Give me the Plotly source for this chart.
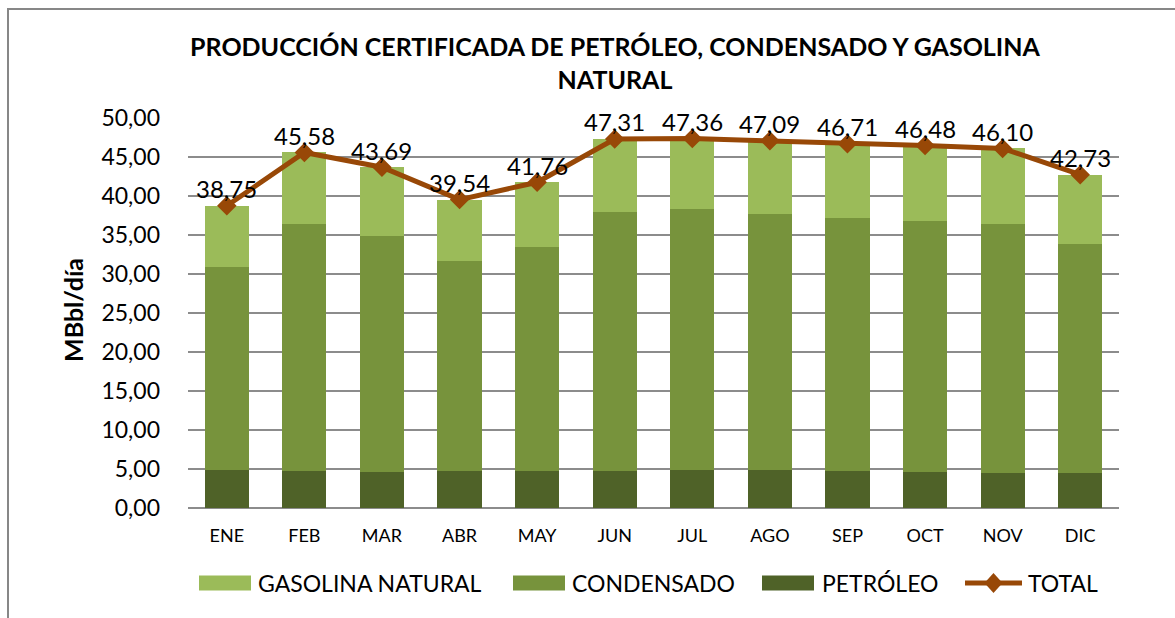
import plotly.graph_objects as go

meses = ["ENE", "FEB", "MAR", "ABR", "MAY", "JUN", "JUL", "AGO", "SEP", "OCT", "NOV", "DIC"]
petroleo = [4.90, 4.77, 4.68, 4.77, 4.77, 4.77, 4.90, 4.81, 4.77, 4.68, 4.51, 4.51]
condensado = [25.97, 31.62, 30.17, 26.87, 28.63, 33.15, 33.46, 32.86, 32.43, 32.11, 31.88, 29.31]
gasolina = [7.88, 9.19, 8.84, 7.90, 8.36, 9.39, 9.00, 9.42, 9.51, 9.69, 9.71, 8.91]
total = [38.75, 45.58, 43.69, 39.54, 41.76, 47.31, 47.36, 47.09, 46.71, 46.48, 46.10, 42.73]
yticks = [0, 5, 10, 15, 20, 25, 30, 35, 40, 45, 50]
series_names = ["GASOLINA NATURAL", "CONDENSADO", "PETRÓLEO", "TOTAL"]

FONT = "Lato"
C_GAS, C_CON, C_PET, C_TOT = "#9BBB59", "#77933C", "#4F6228", "#984807"

# plot-area geometry in pixels (used only for converting layout positions)
L, R, T, B = 188, 1119, 118, 508
PW, PH = R - L, B - T


def px(x):
    return (x - L) / PW


def py(y):
    return (B - y) / PH


fig = go.Figure()
fig.add_trace(go.Bar(x=meses, y=petroleo, name=series_names[2], marker=dict(color=C_PET, line=dict(width=0))))
fig.add_trace(go.Bar(x=meses, y=condensado, name=series_names[1], marker=dict(color=C_CON, line=dict(width=0))))
fig.add_trace(go.Bar(x=meses, y=gasolina, name=series_names[0], marker=dict(color=C_GAS, line=dict(width=0))))
fig.add_trace(go.Scatter(
    x=meses, y=total, name=series_names[3], mode="lines+markers",
    line=dict(color=C_TOT, width=5),
    marker=dict(symbol="diamond", size=15, color=C_TOT),
    cliponaxis=False,
))

annotations = []
# data labels for TOTAL
for m, v in zip(meses, total):
    annotations.append(dict(text=f"{v:.2f}".replace(".", ","), xref="x", yref="y", x=m, y=v,
                            yshift=17, xanchor="center", yanchor="middle", showarrow=False,
                            font=dict(family=FONT, size=24, color="#000000")))

shapes = [dict(type="rect", xref="paper", yref="paper",
               x0=px(8), x1=px(1190), y0=py(640), y1=py(9),
               line=dict(color="#878787", width=2), fillcolor="rgba(0,0,0,0)", layer="below")]
annotations += [
    dict(text="<b>Gráfico N° 10</b>", xref="paper", yref="paper",
         x=px(598), y=py(5), xanchor="center", yanchor="bottom",
         showarrow=False, font=dict(family=FONT, size=20, color="#000000")),
    dict(text="<b>MBbl/día</b>", xref="paper", yref="paper", x=px(73), y=py(310),
         xanchor="center", yanchor="middle", textangle=-90, showarrow=False,
         font=dict(family=FONT, size=25, color="#000000")),
]

# custom legend (wide swatches like the original)
leg_y = 583
swatches = [(199, 251, C_GAS, 256), (513, 565, C_CON, 570), (762, 814, C_PET, 820)]
for (x0, x1, col, tx), name in zip(swatches, series_names[:3]):
    shapes.append(dict(type="rect", xref="paper", yref="paper", x0=px(x0), x1=px(x1),
                       y0=py(leg_y + 7.5), y1=py(leg_y - 7.5), fillcolor=col,
                       line=dict(width=0)))
    annotations.append(dict(text=name, xref="paper", yref="paper", x=px(tx), y=py(leg_y),
                            xanchor="left", yanchor="middle", showarrow=False,
                            font=dict(family=FONT, size=23, color="#000000")))
shapes.append(dict(type="line", xref="paper", yref="paper", x0=px(965), x1=px(1022),
                   y0=py(leg_y), y1=py(leg_y), line=dict(color=C_TOT, width=5)))
shapes.append(dict(type="path", xref="paper", yref="paper",
                   path=f"M {px(993.5)},{py(leg_y - 10)} L {px(1002.5)},{py(leg_y)} "
                        f"L {px(993.5)},{py(leg_y + 10)} L {px(984.5)},{py(leg_y)} Z",
                   fillcolor=C_TOT, line=dict(width=0)))
annotations.append(dict(text=series_names[3], xref="paper", yref="paper", x=px(1026), y=py(leg_y),
                        xanchor="left", yanchor="middle", showarrow=False,
                        font=dict(family=FONT, size=23, color="#000000")))

fig.update_layout(
    width=1175, height=618,
    margin=dict(l=L, r=1175 - R, t=T, b=618 - B, autoexpand=False),
    paper_bgcolor="white", plot_bgcolor="white",
    barmode="stack", bargap=0.43,
    separators=",.",
    font=dict(family=FONT, color="#000000"),
    showlegend=False,
    title=dict(text="<b>PRODUCCIÓN CERTIFICADA DE PETRÓLEO, CONDENSADO Y GASOLINA<br>NATURAL</b>",
               x=615 / 1175, xanchor="center", y=1 - 56 / 618, yanchor="middle",
               font=dict(family=FONT, size=25, color="#000000")),
    xaxis=dict(range=[-0.5, len(meses) - 0.5], showline=False, ticks="",
               tickfont=dict(family=FONT, size=18), showgrid=False,
               ticklabelstandoff=15, automargin=False),
    yaxis=dict(range=[0, 50], tickvals=yticks, tickformat=".2f",
               tickfont=dict(family=FONT, size=23), showgrid=True, gridcolor="#8C8C8C", gridwidth=1.5,
               zeroline=True, zerolinecolor="#8C8C8C", zerolinewidth=2, ticks="", showline=False,
               ticklabelstandoff=27, automargin=False),
    shapes=shapes,
    annotations=annotations,
)

fig.write_html("out.html", config={"displayModeBar": False},
               post_script="document.body.style.margin='0';")
